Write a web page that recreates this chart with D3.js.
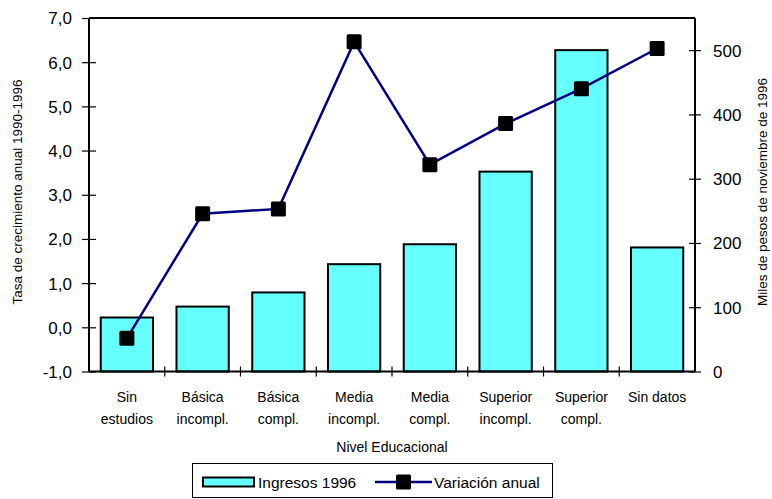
<!DOCTYPE html>
<html lang="es">
<head>
<meta charset="UTF-8">
<script src="https://d3js.org/d3.v7.min.js"></script>
<style>
  body { margin: 0; background: #fff; }
  text { font-family: "Liberation Sans", Arial, sans-serif; fill: #000; }
</style>
</head>
<body>
<script>
// categories (two-line labels) and series
const categories = [
  ["Sin", "estudios"], ["Básica", "incompl."], ["Básica", "compl."], ["Media", "incompl."],
  ["Media", "compl."], ["Superior", "incompl."], ["Superior", "compl."], ["Sin datos", ""]
];
const ingresos = [84, 101, 123, 167, 198, 311, 500, 193];        // right axis, miles de pesos
const variacion = [-0.25, 2.57, 2.68, 6.46, 3.68, 4.61, 5.40, 6.31]; // left axis, %
const leftTicks = [-1, 0, 1, 2, 3, 4, 5, 6, 7];
const rightTicks = [0, 100, 200, 300, 400, 500];

const W = 772, H = 499;
const m = { left: 89, right: 695, top: 18, bottom: 371.5 };

const svg = d3.select("body").append("svg")
  .attr("width", W).attr("height", H);

const idx = categories.map((d, i) => i);
const x = d3.scaleBand().domain(idx).range([m.left, m.right]).paddingInner(0.31).paddingOuter(0.155);
const xb = d3.scaleBand().domain(idx).range([m.left, m.right]);
const yL = d3.scaleLinear().domain([-1, 7]).range([m.bottom, m.top]);
const yR = d3.scaleLinear().domain([0, 550]).range([m.bottom, m.top]);

// bars
svg.append("g").selectAll("rect")
  .data(ingresos)
  .join("rect")
  .attr("x", (d, i) => x(i))
  .attr("width", x.bandwidth())
  .attr("y", d => yR(d))
  .attr("height", d => yR(0) - yR(d))
  .attr("fill", "#66FFFF")
  .attr("stroke", "#000")
  .attr("stroke-width", 2);

// frame: left, right, top, bottom
const frame = svg.append("g").attr("stroke", "#000").attr("stroke-width", 2);
frame.append("line").attr("x1", m.left).attr("x2", m.right).attr("y1", m.top).attr("y2", m.top);
frame.append("line").attr("x1", m.left).attr("x2", m.right).attr("y1", m.bottom).attr("y2", m.bottom);
frame.append("line").attr("x1", m.left).attr("x2", m.left).attr("y1", m.top).attr("y2", m.bottom);
frame.append("line").attr("x1", m.right).attr("x2", m.right).attr("y1", m.top).attr("y2", m.bottom);

// left axis
const fmt = d3.format(".1f");
const axL = svg.append("g").attr("transform", `translate(${m.left},0)`)
  .call(d3.axisLeft(yL).tickValues(leftTicks).tickSize(7)
    .tickFormat(d => fmt(d).replace(".", ",").replace("−", "-")));
axL.select(".domain").remove();
axL.selectAll(".tick line").attr("x2", 7).attr("x1", -7).attr("stroke-width", 1.2);
axL.selectAll(".tick text").attr("x", -17).attr("font-size", 17).attr("dy", "0.35em");

// right axis
const axR = svg.append("g").attr("transform", `translate(${m.right},0)`)
  .call(d3.axisRight(yR).tickValues(rightTicks).tickSize(6));
axR.select(".domain").remove();
axR.selectAll(".tick line").attr("x1", -6).attr("x2", 6).attr("stroke-width", 1.2);
axR.selectAll(".tick text").attr("x", 18).attr("font-size", 17).attr("dy", "0.35em");

// x ticks at category boundaries
const bounds = d3.range(1, categories.length).map(i => xb(i));
svg.append("g").selectAll("line")
  .data(bounds)
  .join("line")
  .attr("x1", d => d).attr("x2", d => d)
  .attr("y1", m.bottom - 5).attr("y2", m.bottom + 5)
  .attr("stroke", "#000").attr("stroke-width", 1.2);

// category labels
const cl = svg.append("g").attr("font-size", 14).attr("text-anchor", "middle");
categories.forEach((c, i) => {
  const cx = xb(i) + xb.bandwidth() / 2;
  cl.append("text").attr("x", cx).attr("y", 402).text(c[0]);
  if (c[1]) cl.append("text").attr("x", cx).attr("y", 424).text(c[1]);
});

// line series
const lineGen = d3.line()
  .x((d, i) => xb(i) + xb.bandwidth() / 2)
  .y(d => yL(d));
svg.append("path")
  .datum(variacion)
  .attr("d", lineGen)
  .attr("fill", "none")
  .attr("stroke", "#000080")
  .attr("stroke-width", 2.5);
svg.append("g").selectAll("rect")
  .data(variacion)
  .join("rect")
  .attr("x", (d, i) => xb(i) + xb.bandwidth() / 2 - 7.5)
  .attr("y", d => yL(d) - 7.5)
  .attr("width", 15).attr("height", 15)
  .attr("rx", 1.5)
  .attr("fill", "#000");

// axis titles
svg.append("text")
  .attr("transform", "translate(22,192) rotate(-90)")
  .attr("text-anchor", "middle").attr("font-size", 13.5)
  .text("Tasa de crecimiento anual 1990-1996");
svg.append("text")
  .attr("transform", "translate(767,192) rotate(-90)")
  .attr("text-anchor", "middle").attr("font-size", 13.5)
  .text("Miles de pesos de noviembre de 1996");
svg.append("text")
  .attr("x", (m.left + m.right) / 2).attr("y", 452)
  .attr("text-anchor", "middle").attr("font-size", 14)
  .text("Nivel Educacional");

// legend
const lg = svg.append("g");
lg.append("rect").attr("x", 192.5).attr("y", 463.5).attr("width", 360).attr("height", 34)
  .attr("fill", "#fff").attr("stroke", "#000").attr("stroke-width", 1);
lg.append("rect").attr("x", 203).attr("y", 477.5).attr("width", 51).attr("height", 9)
  .attr("fill", "#66FFFF").attr("stroke", "#000").attr("stroke-width", 2);
lg.append("text").attr("x", 258).attr("y", 488).attr("font-size", 15.5).text("Ingresos 1996");
lg.append("line").attr("x1", 375).attr("x2", 432).attr("y1", 482).attr("y2", 482)
  .attr("stroke", "#000080").attr("stroke-width", 2.5);
lg.append("rect").attr("x", 396).attr("y", 474.5).attr("width", 15).attr("height", 15)
  .attr("rx", 1.5).attr("fill", "#000");
lg.append("text").attr("x", 434).attr("y", 488).attr("font-size", 15.5).text("Variación anual");
</script>
</body>
</html>
